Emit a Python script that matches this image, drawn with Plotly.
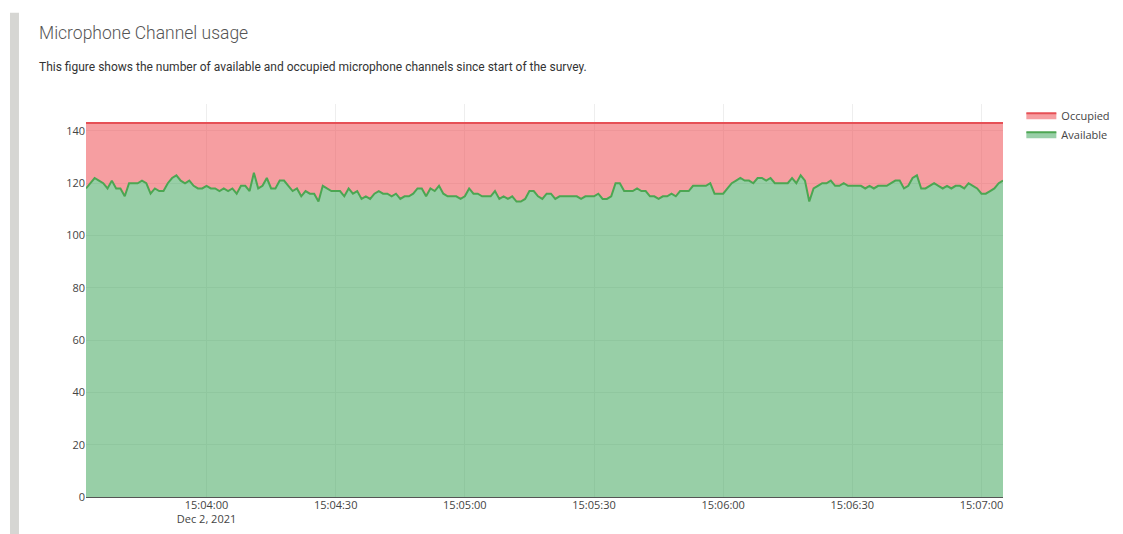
import pandas as pd
import plotly.graph_objects as go

# Sampled once per second, Dec 2, 2021
start_time = "2021-12-02 15:03:32"
total_channels = 143

available = [
    118, 120, 122, 121, 120, 118, 121, 118, 118, 115,
    120, 120, 120, 121, 120, 116, 118, 117, 117, 120,
    122, 123, 121, 120, 121, 119, 118, 118, 119, 118,
    118, 117, 118, 117, 118, 116, 119, 119, 117, 124,
    118, 119, 122, 118, 118, 121, 121, 119, 117, 118,
    115, 117, 116, 116, 113, 119, 118, 117, 117, 117,
    115, 118, 116, 117, 114, 115, 114, 116, 117, 116,
    116, 115, 116, 114, 115, 115, 116, 118, 118, 115,
    118, 117, 119, 116, 115, 115, 115, 114, 115, 118,
    116, 116, 115, 115, 115, 117, 114, 115, 114, 115,
    113, 113, 114, 117, 117, 115, 114,
    116, 116, 114, 115, 115, 115, 115, 115, 114, 115,
    115, 115, 116, 114, 114, 115, 120, 120, 117, 117,
    117, 118, 117, 117, 115, 115, 114, 115, 115, 116,
    115, 117, 117, 117, 119, 119, 119, 119, 120, 116,
    116, 116, 118, 120, 121, 122, 121, 121, 120, 122,
    122, 121, 122, 120, 120, 120, 120, 122, 120, 123,
    121, 113, 118, 119, 120, 120, 121, 119, 119, 120,
    119, 119, 119, 119, 118, 119, 118, 119, 119, 119,
    120, 121, 121, 118, 119, 122, 123, 118, 118, 119,
    120, 119, 118, 119, 118, 119, 119, 118, 120, 119,
    118, 116, 116, 117, 118, 120, 121,
]
occupied = [total_channels - a for a in available]
times = pd.date_range(start=start_time, periods=len(available), freq="s")

y_ticks = [0, 20, 40, 60, 80, 100, 120, 140]

fig = go.Figure()
fig.add_trace(go.Scatter(
    x=times, y=available, name="Available", mode="lines",
    stackgroup="channels",
    line=dict(color="rgb(76,166,82)", width=2),
    fillcolor="rgba(50,160,80,0.5)",
))
fig.add_trace(go.Scatter(
    x=times, y=occupied, name="Occupied", mode="lines",
    stackgroup="channels",
    line=dict(color="rgb(230,80,86)", width=2),
    fillcolor="rgba(237,61,67,0.5)",
))

fig.update_layout(
    width=1123, height=534,
    margin=dict(l=86, r=120, t=104, b=37, autoexpand=False),
    paper_bgcolor="white", plot_bgcolor="white",
    font=dict(family="Open Sans, verdana, arial, sans-serif", size=11, color="#444"),
    showlegend=True,
    legend=dict(font=dict(size=11, color="#444"), x=1.02, y=1.008),
    xaxis=dict(
        type="date", showgrid=True, gridcolor="#eeeeee", automargin=False,
        tickformat="%H:%M:%S\n%b %-d, %Y", dtick=30000,
        tick0="2021-12-02 15:04:00",
        ticks="", zeroline=False, showline=False,
    ),
    yaxis=dict(
        range=[0, 150.3], tickvals=y_ticks, showgrid=True, gridcolor="#eeeeee",
        automargin=False,
        zeroline=True, zerolinecolor="#555", zerolinewidth=1, ticks="",
    ),
    shapes=[dict(
        type="rect", xref="paper", yref="paper",
        x0=-0.0829, x1=-0.0731, y0=-0.1, y1=1.232,
        fillcolor="#d6d6d3", line=dict(width=0), layer="below",
    )],
    annotations=[
        dict(text="Microphone Channel usage", xref="paper", yref="paper",
             x=-0.0535, y=1.181, xanchor="left", yanchor="middle", showarrow=False,
             font=dict(family="Roboto", size=17.5, color="#555", weight=300)),
        dict(text="This figure shows the number of available and occupied microphone channels since start of the survey.",
             xref="paper", yref="paper", x=-0.0535, y=1.094, xanchor="left",
             yanchor="middle", showarrow=False,
             font=dict(family="Roboto", size=12, color="#333")),
    ],
)

fig.write_html("out.html")
